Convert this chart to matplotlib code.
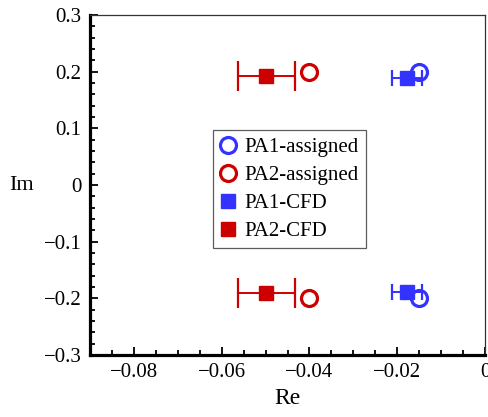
import numpy as np
import matplotlib
matplotlib.use("Agg")
import matplotlib.pyplot as plt
from matplotlib.ticker import MultipleLocator, FuncFormatter

plt.rcParams['font.family'] = ['Liberation Serif', 'DejaVu Serif']
plt.rcParams['axes.unicode_minus'] = True

# assigned eigenvalues
pa1_assigned_re = [-0.015, -0.015]
pa1_assigned_im = [0.2, -0.2]
pa2_assigned_re = [-0.04, -0.04]
pa2_assigned_im = [0.2, -0.2]

# CFD-identified eigenvalues with error in real part
pa1_cfd_re = [-0.0178, -0.0178]
pa1_cfd_im = [0.189, -0.188]
pa1_cfd_err = [0.0034, 0.0034]
pa2_cfd_re = [-0.0498, -0.0498]
pa2_cfd_im = [0.192, -0.190]
pa2_cfd_err = [0.0064, 0.0064]

blue = '#3333ff'
red = '#cc0000'

fig = plt.figure(figsize=(4.88, 4.17), dpi=100)
ax = fig.add_axes([90/488, 62/417, 395/488, 340/417])

ax.errorbar(pa1_cfd_re, pa1_cfd_im, xerr=pa1_cfd_err, fmt='none', ecolor=blue,
            elinewidth=1.4, capsize=6, capthick=1.6, zorder=2)
ax.errorbar(pa2_cfd_re, pa2_cfd_im, xerr=pa2_cfd_err, fmt='none', ecolor=red,
            elinewidth=1.4, capsize=11, capthick=1.6, zorder=2)

ax.plot(pa1_assigned_re, pa1_assigned_im, 'o', ms=11.5, mfc='none', mec=blue,
        mew=2.3, label='PA1-assigned', zorder=4)
ax.plot(pa2_assigned_re, pa2_assigned_im, 'o', ms=11.5, mfc='none', mec=red,
        mew=2.3, label='PA2-assigned', zorder=4)
ax.plot(pa1_cfd_re, pa1_cfd_im, 's', ms=10, color=blue, mec=blue,
        label='PA1-CFD', zorder=3)
ax.plot(pa2_cfd_re, pa2_cfd_im, 's', ms=10, color=red, mec=red,
        label='PA2-CFD', zorder=3)

ax.set_xlim(-0.09, 0)
ax.set_ylim(-0.3, 0.3)
ax.xaxis.set_major_locator(MultipleLocator(0.02))
ax.xaxis.set_minor_locator(MultipleLocator(0.005))
ax.yaxis.set_major_locator(MultipleLocator(0.1))
ax.yaxis.set_minor_locator(MultipleLocator(0.02))

def fmt(v, pos):
    if abs(v) < 1e-9:
        return '0'
    s = ('%.2f' % v) if abs(v) < 0.095 else ('%.1f' % v)
    return s.replace('-', '\u2212')

ax.xaxis.set_major_formatter(FuncFormatter(fmt))
ax.yaxis.set_major_formatter(FuncFormatter(fmt))

ax.tick_params(which='both', direction='in', top=False, right=False,
               labelsize=15, width=1.3, color='black')
ax.tick_params(which='major', length=6, pad=6)
ax.tick_params(which='minor', length=3.5)

for side in ['left', 'bottom']:
    ax.spines[side].set_linewidth(2.3)
for side in ['top', 'right']:
    ax.spines[side].set_linewidth(0.9)
    ax.spines[side].set_color('#333333')

ax.set_xlabel('Re', fontsize=17, labelpad=4)
ax.set_ylabel('Im', fontsize=16, rotation=0, labelpad=16, va='center')

leg = ax.legend(loc='center', bbox_to_anchor=(0.505, 0.487), fontsize=15,
                frameon=True, fancybox=False, edgecolor='#333333',
                handlelength=0.8, handletextpad=0.4, borderpad=0.35,
                labelspacing=0.4, borderaxespad=0)
leg.get_frame().set_linewidth(0.9)

fig.savefig('out.png', dpi=100)
